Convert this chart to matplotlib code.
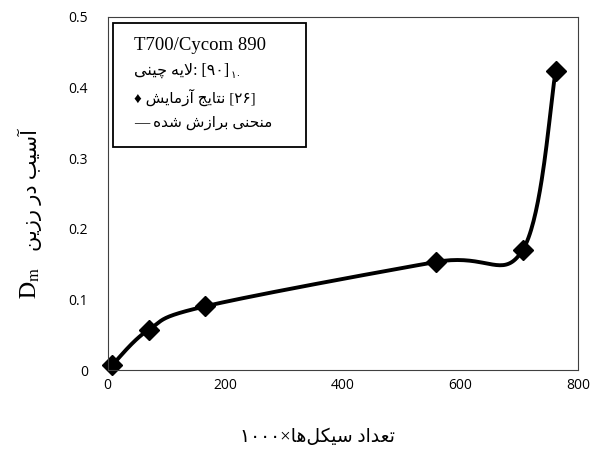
import numpy as np
import matplotlib
matplotlib.use('Agg')
import matplotlib.pyplot as plt
from matplotlib.patches import Rectangle

# داده‌ها (خوانده شده از نمودار)
cycles = [8, 70, 165, 558, 706, 762]          # x 1000
damage = [0.007, 0.057, 0.090, 0.153, 0.170, 0.423]
xticks = [0, 200, 400, 600, 800]
yticks = [0, 0.1, 0.2, 0.3, 0.4, 0.5]
ytick_labels = ['0', '0.1', '0.2', '0.3', '0.4', '0.5']

material = 'T700/Cycom 890'
layup_label = 'لایه چینی'
layup_value = '[۹۰]'
layup_sub = '۱۰'
test_label = 'نتایج آزمایش'
test_ref = '[۲۶]'
fit_label = 'منحنی برازش شده'
x_label = 'تعداد سیکل‌ها'
x_factor = '۱۰۰۰×'
y_label = 'آسیب در رزین'

# شکل‌دهی ساده حروف فارسی (matplotlib خودش راست به چپ نمی‌نویسد)
# (isolated, final, initial, medial)
FORMS = {
    'ا': ('\uFE8D', '\uFE8E', None, None),
    'آ': ('\uFE81', '\uFE82', None, None),
    'د': ('\uFEA9', '\uFEAA', None, None),
    'ر': ('\uFEAD', '\uFEAE', None, None),
    'ز': ('\uFEAF', '\uFEB0', None, None),
    'ب': ('\uFE8F', '\uFE90', '\uFE91', '\uFE92'),
    'ت': ('\uFE95', '\uFE96', '\uFE97', '\uFE98'),
    'ج': ('\uFE9D', '\uFE9E', '\uFE9F', '\uFEA0'),
    'ح': ('\uFEA1', '\uFEA2', '\uFEA3', '\uFEA4'),
    'س': ('\uFEB1', '\uFEB2', '\uFEB3', '\uFEB4'),
    'ش': ('\uFEB5', '\uFEB6', '\uFEB7', '\uFEB8'),
    'ع': ('\uFEC9', '\uFECA', '\uFECB', '\uFECC'),
    'ل': ('\uFEDD', '\uFEDE', '\uFEDF', '\uFEE0'),
    'م': ('\uFEE1', '\uFEE2', '\uFEE3', '\uFEE4'),
    'ن': ('\uFEE5', '\uFEE6', '\uFEE7', '\uFEE8'),
    'ه': ('\uFEE9', '\uFEEA', '\uFEEB', '\uFEEC'),
    'چ': ('\uFB7A', '\uFB7B', '\uFB7C', '\uFB7D'),
    'ک': ('\uFB8E', '\uFB8F', '\uFB90', '\uFB91'),
    'ی': ('\uFBFC', '\uFBFD', '\uFBFE', '\uFBFF'),
}
LAM_ALEF = {'ا': ('\uFEFB', '\uFEFC'), 'آ': ('\uFEF5', '\uFEF6')}


def dual(c):
    return c in FORMS and FORMS[c][2] is not None


def shape_word(w):
    out = []
    i = 0
    while i < len(w):
        c = w[i]
        if c not in FORMS:
            if c != '\u200c':
                out.append(c)
            i += 1
            continue
        prev_join = i > 0 and dual(w[i - 1])
        if c == 'ل' and i + 1 < len(w) and w[i + 1] in LAM_ALEF:
            out.append(LAM_ALEF[w[i + 1]][1 if prev_join else 0])
            i += 2
            continue
        next_join = dual(c) and i + 1 < len(w) and w[i + 1] in FORMS
        iso, fin, ini, med = FORMS[c]
        if prev_join and next_join:
            out.append(med)
        elif prev_join:
            out.append(fin)
        elif next_join:
            out.append(ini)
        else:
            out.append(iso)
        i += 1
    return ''.join(reversed(out))


def rtl(text):
    return ' '.join(shape_word(w) for w in reversed(text.split(' ')))


def smooth(x, y, n=40):
    # منحنی هموار شبیه اکسل (بزیه کاتمول-رام)
    p = np.column_stack([x, y]).astype(float)
    xs, ys = [], []
    for i in range(len(p) - 1):
        p0 = p[i - 1] if i > 0 else p[i]
        p1, p2 = p[i], p[i + 1]
        p3 = p[i + 2] if i + 2 < len(p) else p[i + 1]
        c1 = p1 + (p2 - p0) / 6
        c2 = p2 - (p3 - p1) / 6
        t = np.linspace(0, 1, n)[:, None]
        b = (1 - t) ** 3 * p1 + 3 * (1 - t) ** 2 * t * c1 + 3 * (1 - t) * t ** 2 * c2 + t ** 3 * p2
        xs.extend(b[:, 0])
        ys.extend(b[:, 1])
    return xs, ys


W, H = 603, 455
fig = plt.figure(figsize=(W / 100, H / 100), dpi=100)
ax = fig.add_axes([107.5 / W, 1 - 370 / H, (578 - 107.5) / W, (370 - 17) / H])

sx, sy = smooth(cycles, damage)
ax.plot(sx, sy, color='black', lw=2.8, solid_capstyle='round', clip_on=False)
ax.plot(cycles, damage, 'D', color='black', ms=10, ls='none', clip_on=False)

ax.set_xlim(0, 800)
ax.set_ylim(0, 0.5)
ax.set_xticks(xticks)
ax.set_yticks(yticks)
ax.set_yticklabels(ytick_labels)
for lab in ax.get_xticklabels() + ax.get_yticklabels():
    lab.set_fontfamily('Open Sans')
    lab.set_fontsize(10)
ax.tick_params(axis='x', length=0, pad=6)
ax.tick_params(axis='y', length=0, pad=14)
for s in ax.spines.values():
    s.set_color('#404040')
    s.set_linewidth(0.8)

ar_font = ['Liberation Serif', 'DejaVu Sans']


def fx(px):
    return px / W


def fy(py):
    return 1 - py / H


# کادر راهنما
box = Rectangle((fx(113), fy(147)), (306 - 113) / W, (147 - 23) / H,
                transform=fig.transFigure, fc='white', ec='black', lw=1.3, zorder=5)
fig.add_artist(box)

fig.text(fx(134), fy(45), material, family='Liberation Serif', fontsize=13.5,
         va='center', ha='left', zorder=6)
t2 = fig.text(fx(134), fy(71), rtl(layup_label) + ': ' + layup_value, family=ar_font,
              fontsize=11.5, va='center', ha='left', zorder=6)
fig.text(fx(134), fy(97), '♦ ' + rtl(test_label) + ' ' + test_ref, family=ar_font,
         fontsize=11, va='center', ha='left', zorder=6)
fig.text(fx(134), fy(123), '— ' + rtl(fit_label), family=ar_font,
         fontsize=11, va='center', ha='left', zorder=6)

fig.canvas.draw()
bb = t2.get_window_extent()
fig.text(bb.x1 / W + 0.002, fy(76), layup_sub, family=ar_font, fontsize=7.5,
         va='center', ha='left', zorder=6)

# عنوان محورها
fig.text(fx(317), fy(437), x_factor + rtl(x_label), family=ar_font, fontsize=13.5,
         ha='center', va='center')
fig.text(fx(30), fy(190), rtl(y_label), family=ar_font, fontsize=15,
         rotation=90, ha='center', va='center')
fig.text(fx(30), fy(283), r'$\mathrm{D_m}$', fontsize=17, rotation=90,
         ha='center', va='center', math_fontfamily='stix')

fig.savefig('out.png', dpi=100)
